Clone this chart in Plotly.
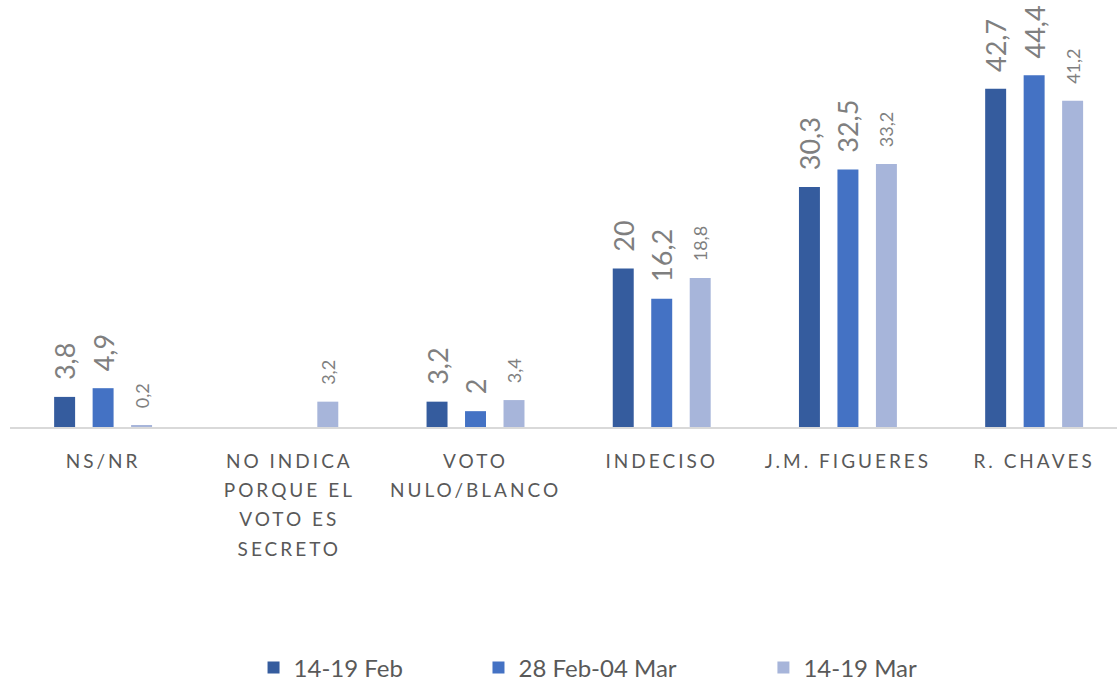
import plotly.graph_objects as go

categories = ["NS/NR", "NO INDICA<br>PORQUE EL<br>VOTO ES<br>SECRETO", "VOTO<br>NULO/BLANCO",
              "INDECISO", "J.M. FIGUERES", "R. CHAVES"]
series_names = ["14-19 Feb", "28 Feb-04 Mar", "14-19 Mar"]
feb = [3.8, None, 3.2, 20, 30.3, 42.7]
mar1 = [4.9, None, 2, 16.2, 32.5, 44.4]
mar2 = [0.2, 3.2, 3.4, 18.8, 33.2, 41.2]

colors = ["#355C9E", "#4472C4", "#A7B5DA"]
label_sizes = [27, 27, 18]
pads = [2, 2, 3]
legend_ids = ["legend", "legend2", "legend3"]
legend_x = [0.22, 0.4232, 0.6806]


def fmt(v, pad):
    if v is None:
        return ""
    s = ("%g" % v).replace(".", ",")
    return "\u00a0" * pad + s


fig = go.Figure()
for name, vals, col, fs, pd_, lid in zip(series_names, [feb, mar1, mar2], colors,
                                         label_sizes, pads, legend_ids):
    fig.add_trace(go.Bar(
        name=name, x=list(range(len(categories))), y=vals,
        marker=dict(color=col, line=dict(width=0)),
        text=[fmt(v, pd_) for v in vals],
        textposition="outside", textangle=-90, constraintext="none",
        cliponaxis=False,
        textfont=dict(family="Lato", size=fs, color="#7F7F7F"),
        hoverinfo="skip", legend=lid,
    ))

legend_style = dict(orientation="h", xanchor="left",
                    yref="container", y=0.0248, yanchor="middle",
                    font=dict(family="Lato", size=24, color="#595959"),
                    bgcolor="rgba(0,0,0,0)")

fig.update_layout(
    width=1117, height=685,
    margin=dict(l=10, r=0, t=31, b=258),
    paper_bgcolor="white", plot_bgcolor="white",
    barmode="group", bargap=0.38, bargroupgap=0.455,
    font=dict(family="Lato", color="#595959"),
    showlegend=True,
    legend=dict(x=legend_x[0], **legend_style),
    legend2=dict(x=legend_x[1], **legend_style),
    legend3=dict(x=legend_x[2], **legend_style),
    xaxis=dict(
        tickmode="array", tickvals=list(range(len(categories))), ticktext=categories,
        range=[-0.5, 5.445],
        showline=True, linecolor="#D9D9D9", linewidth=1.5,
        ticks="outside", ticklen=16, tickcolor="rgba(0,0,0,0)",
        tickfont=dict(family="Lato", size=19, color="#595959"),
        tickangle=0, showgrid=False, zeroline=False,
    ),
    yaxis=dict(range=[0, 50], visible=False, showgrid=False, zeroline=False),
)

post = """
document.body.style.margin = '0';
var gd = document.getElementById('{plot_id}');
function fixTicks(){
  var texts = gd.querySelectorAll('.xtick text');
  texts.forEach(function(t){
    t.style.letterSpacing = '3px';
    var lines = t.querySelectorAll('tspan.line');
    lines.forEach(function(l){
      if (l.getAttribute('data-fixed')) return;
      var dy = l.getAttribute('dy');
      if (dy && dy.indexOf('em') > 0) {
        var v = parseFloat(dy);
        if (v > 0) { l.setAttribute('dy', (v * 1.55 / 1.3) + 'em'); }
      }
      l.setAttribute('data-fixed', '1');
    });
  });
}
fixTicks();
gd.on('plotly_afterplot', fixTicks);
"""

fig.write_html("out.html", post_script=post, config={"displayModeBar": False})
